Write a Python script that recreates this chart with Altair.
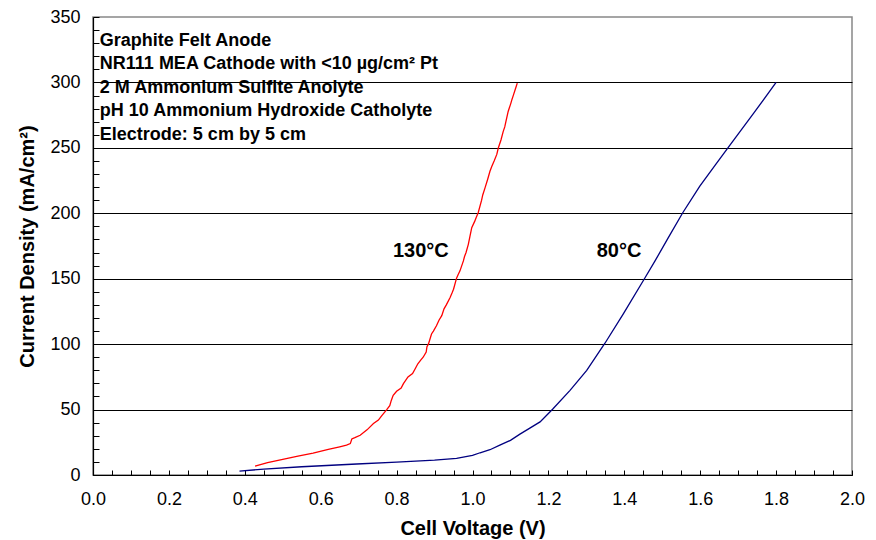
import altair as alt
import pandas as pd

# ---- data ----
v130 = [0.427, 0.46, 0.50, 0.54, 0.58, 0.62, 0.65, 0.668, 0.678, 0.682, 0.690, 0.704, 0.722, 0.739,
        0.752, 0.760, 0.774, 0.782, 0.786, 0.791, 0.800, 0.812, 0.818, 0.830, 0.842, 0.849, 0.856,
        0.864, 0.870, 0.878, 0.880, 0.884, 0.892, 0.897, 0.905, 0.912, 0.919, 0.925, 0.931, 0.941,
        0.946, 0.950, 0.958, 0.962, 0.967, 0.976, 0.979, 0.983, 0.989, 0.993, 0.998, 1.006, 1.010,
        1.015, 1.024, 1.027, 1.033, 1.040, 1.046, 1.051, 1.057, 1.064, 1.068, 1.075, 1.081, 1.085,
        1.088, 1.094, 1.101, 1.104, 1.108, 1.113, 1.118]
i130 = [6.8, 9.5, 12.0, 14.5, 16.7, 19.5, 21.5, 22.8, 24.0, 27.5, 28.5, 30.4, 34.5, 39.3,
        42.0, 45.0, 50.0, 53.0, 57.0, 60.9, 64.0, 66.5, 69.8, 75.0, 77.5, 81.2, 85.0,
        88.0, 90.0, 94.0, 98.0, 100.2, 107.8, 110.0, 114.0, 118.5, 121.8, 127.0, 130.0, 135.7,
        139.0, 142.0, 150.4, 153.0, 156.0, 163.6, 167.0, 170.0, 176.3, 182.0, 189.0, 194.0, 197.0,
        200.4, 210.0, 214.0, 219.4, 226.0, 232.1, 236.0, 240.0, 245.0, 249.9, 256.0, 262.6, 266.0,
        270.0, 277.8, 284.0, 287.0, 290.5, 295.0, 299.5]

v80 = [0.386, 0.45, 0.55, 0.695, 0.80, 0.90, 0.958, 1.00, 1.020, 1.046, 1.072, 1.10, 1.125, 1.150,
       1.178, 1.211, 1.257, 1.301, 1.349, 1.397, 1.455, 1.481, 1.516, 1.554, 1.599, 1.640, 1.674,
       1.741, 1.800]
i80 = [3.0, 4.5, 6.3, 8.4, 9.8, 11.3, 12.7, 15.0, 17.0, 19.3, 22.8, 26.5, 31.2, 35.6,
       40.6, 50.2, 64.7, 79.9, 100.7, 123.0, 150.9, 163.6, 181.4, 200.4, 220.7, 237.0, 250.4,
       276.5, 300.0]

series_names = ["130°C", "80°C"]
series_colors = ["#FF0000", "#000080"]

note_lines = ["Graphite Felt Anode",
              "NR111 MEA Cathode with <10 µg/cm² Pt",
              "2 M Ammonium Sulfite Anolyte",
              "pH 10 Ammonium Hydroxide Catholyte",
              "Electrode: 5 cm by 5 cm"]
note_x = [0.018, 0.018, 0.018, 0.018, 0.018]
note_y = [327.8, 309.9, 291.9, 274.0, 256.0]

label_text = ["130°C", "80°C"]
label_x = [0.864, 1.386]
label_y = [166.8, 166.8]

# ---- layout ----
W, H = 759, 458
FONT = "Liberation Sans"
X_MAX, Y_MAX = 2.0, 350.0
X_TICK_COUNT = 40   # a tick every 0.05 V, labelled every 0.2 V
Y_TICK_COUNT = 35   # a tick every 10 mA/cm², labelled every 50

# ---- tables ----
rows = []
for k, (v, i) in enumerate(zip(v130, i130)):
    rows.append({"V": v, "I": i, "col": series_colors[0], "grp": series_names[0], "order": k})
for k, (v, i) in enumerate(zip(v80, i80)):
    rows.append({"V": v, "I": i, "col": series_colors[1], "grp": series_names[1], "order": k})
df = pd.DataFrame(rows)

notes = pd.DataFrame({"text": note_lines, "V": note_x, "I": note_y})
labels = pd.DataFrame({"text": label_text, "V": label_x, "I": label_y})

xscale = alt.Scale(domain=[0, X_MAX], nice=False)
yscale = alt.Scale(domain=[0, Y_MAX], nice=False)

xaxis = alt.Axis(tickCount=X_TICK_COUNT, format=".1f",
                 labelExpr="abs(datum.value * 5 - round(datum.value * 5)) < 0.000001 ? datum.label : ''",
                 title="Cell Voltage (V)", grid=False,
                 ticks=True, tickSize={"expr": "-5"}, tickColor="#000", tickWidth=1,
                 labelFontSize=18, labelFont=FONT, labelColor="#000",
                 labelPadding=20, labelFlush=False, labelOverlap=False,
                 titleFontSize=20, titleFont=FONT, titleFontWeight="bold",
                 titleColor="#000", titlePadding=10, domainColor="#000", domainWidth=1.2)
yaxis = alt.Axis(tickCount=Y_TICK_COUNT,
                 labelExpr="abs(datum.value / 50 - round(datum.value / 50)) < 0.000001 ? datum.label : ''",
                 title="Current Density (mA/cm²)", grid=True, gridColor="#000", gridWidth=1,
                 gridOpacity={"condition": {"test": "abs(datum.value / 50 - round(datum.value / 50)) < 0.000001 && datum.value < 349",
                                            "value": 1}, "value": 0},
                 ticks=True, tickSize={"expr": "-6"}, tickColor="#000", tickWidth=1,
                 labelFontSize=18, labelFont=FONT, labelColor="#000",
                 labelPadding=19, labelFlush=False, labelOverlap=False,
                 titleFontSize=20, titleFont=FONT, titleFontWeight="bold", titleColor="#000",
                 titlePadding=12, domainColor="#000", domainWidth=1.2)

lines = alt.Chart(df).mark_line(strokeWidth=1.3).encode(
    x=alt.X("V:Q", scale=xscale, axis=xaxis),
    y=alt.Y("I:Q", scale=yscale, axis=yaxis),
    color=alt.Color("col:N", scale=None, legend=None),
    order="order:Q",
    detail="grp:N",
)

notes_layer = alt.Chart(notes).mark_text(align="left", baseline="alphabetic", fontSize=18,
                                         fontWeight="bold", font=FONT, color="#000").encode(
    x=alt.X("V:Q", scale=xscale),
    y=alt.Y("I:Q", scale=yscale),
    text="text:N",
)
labels_layer = alt.Chart(labels).mark_text(align="center", baseline="alphabetic", fontSize=20,
                                           fontWeight="bold", font=FONT, color="#000").encode(
    x=alt.X("V:Q", scale=xscale),
    y=alt.Y("I:Q", scale=yscale),
    text="text:N",
)

chart = alt.layer(lines, notes_layer, labels_layer).properties(
    width=W, height=H,
    autosize=alt.AutoSizeParams(type="none"),
    padding={"left": 85, "top": 9, "right": 16, "bottom": 64},
    background="#ffffff",
).configure_view(stroke="#888888", strokeWidth=1.5)

chart.save("out.html", embed_options={"renderer": "svg", "actions": False})
